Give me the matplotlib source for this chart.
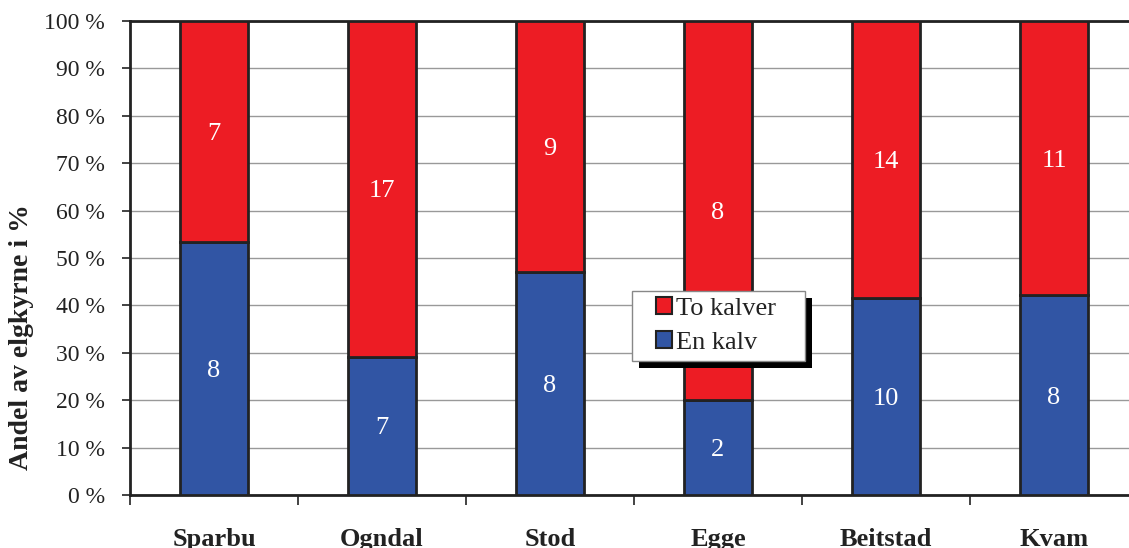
import matplotlib.pyplot as plt
from matplotlib.patches import Rectangle
import numpy as np

plt.rcParams["font.family"] = ["Liberation Serif", "DejaVu Serif"]

areas = ["Sparbu", "Ogndal", "Stod", "Egge", "Beitstad", "Kvam"]
en_kalv = np.array([8, 7, 8, 2, 10, 8])
to_kalver = np.array([7, 17, 9, 8, 14, 11])

total = en_kalv + to_kalver
pct_en = en_kalv / total * 100
pct_to = to_kalver / total * 100

fig = plt.figure(figsize=(11.29, 5.48), dpi=100)
ax = fig.add_axes([0.1151, 0.0967, 0.8929, 0.865])

x = np.arange(len(areas))
width = 0.4
blue = "#3155A4"
red = "#ED1C24"

b1 = ax.bar(x, pct_en, width, color=blue, edgecolor="#222222", linewidth=2,
            label="En kalv", zorder=3)
b2 = ax.bar(x, pct_to, width, bottom=pct_en, color=red, edgecolor="#222222",
            linewidth=2, label="To kalver", zorder=3)

for i in range(len(areas)):
    ax.text(x[i], pct_en[i] / 2, str(en_kalv[i]), ha="center",
            va="center_baseline", color="white", fontsize=19, zorder=4)
    ax.text(x[i], pct_en[i] + pct_to[i] / 2, str(to_kalver[i]), ha="center",
            va="center_baseline", color="white", fontsize=19, zorder=4)

ax.set_xlim(-0.5, 5.5)
ax.set_ylim(0, 100)
ax.set_yticks(np.arange(0, 101, 10))
ax.set_yticklabels([f"{v} %" for v in range(0, 101, 10)], fontsize=17,
                   color="#222222")
ax.set_xticks(np.arange(-0.5, 5.6, 1))
ax.set_xticklabels([])
ax.tick_params(axis="x", length=7, width=1.2, color="#222222")
ax.tick_params(axis="y", length=6, width=1.2, color="#222222", pad=12)
for i, name in enumerate(areas):
    ax.text(x[i], -7.0, name, ha="center", va="top", fontsize=19,
            fontweight="bold", color="#222222")

# y label sits lower than the axis centre in the original
fig.text(22 / 1129, 1 - 337 / 548, "Andel av elgkyrne i %", rotation=90,
         ha="center", va="center", fontsize=20, fontweight="bold",
         color="#222222")

ax.yaxis.grid(True, color="#999999", linewidth=1, zorder=0)
ax.set_axisbelow(True)
for side in ["left", "bottom", "top", "right"]:
    ax.spines[side].set_linewidth(2)
    ax.spines[side].set_color("#222222")

# legend frame drawn by hand (wide side padding + hard black shadow)
box_x0, box_y0, box_w, box_h = 0.498, 0.2827, 0.1716, 0.1477
ax.add_patch(Rectangle((box_x0 + 0.0069, box_y0 - 0.0148), box_w, box_h,
                       transform=ax.transAxes, facecolor="black",
                       edgecolor="none", zorder=5, clip_on=False))
ax.add_patch(Rectangle((box_x0, box_y0), box_w, box_h,
                       transform=ax.transAxes, facecolor="white",
                       edgecolor="#888888", linewidth=1, zorder=5.1,
                       clip_on=False))

leg = ax.legend([b2, b1], ["To kalver", "En kalv"], loc="center left",
                bbox_to_anchor=(0.5218, 0.3576), borderaxespad=0,
                borderpad=0, fontsize=19, frameon=False,
                handlelength=0.6, handleheight=0.6, handletextpad=0.15,
                labelspacing=0.43)
leg.set_zorder(6)
for t in leg.get_texts():
    t.set_color("#222222")
for h in leg.legend_handles:
    h.set_linewidth(1.5)

fig.savefig("out.png", dpi=100)
plt.close()
